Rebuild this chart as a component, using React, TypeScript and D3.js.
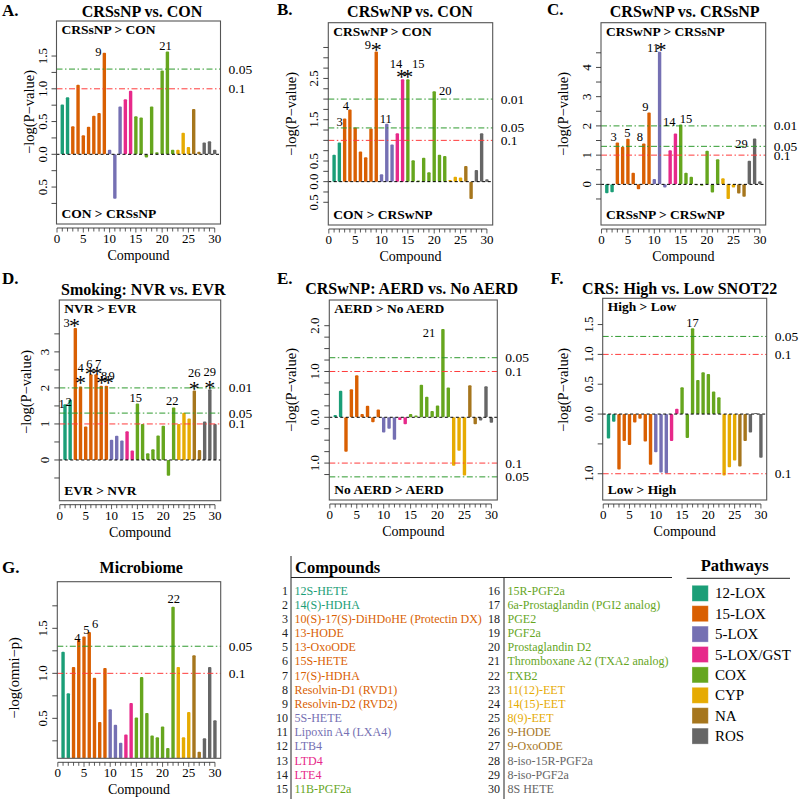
import React from "react";
import * as d3 from "d3";

// ---------------- DATA ----------------
const compoundIds = d3.range(1, 31);
const compoundNames = [
  "12S-HETE", "14(S)-HDHA", "10(S)-17(S)-DiHDoHE (Protectin DX)", "13-HODE", "13-OxoODE",
  "15S-HETE", "17(S)-HDHA", "Resolvin-D1 (RVD1)", "Resolvin-D2 (RVD2)", "5S-HETE",
  "Lipoxin A4 (LXA4)", "LTB4", "LTD4", "LTE4", "11B-PGF2a",
  "15R-PGF2a", "6a-Prostaglandin (PGI2 analog)", "PGE2", "PGF2a", "Prostaglandin D2",
  "Thromboxane A2 (TXA2 analog)", "TXB2", "11(12)-EET", "14(15)-EET", "8(9)-EET",
  "9-HODE", "9-OxoODE", "8-iso-15R-PGF2a", "8-iso-PGF2a", "8S HETE",
];
const compoundPathway = [
  "12-LOX", "12-LOX",
  "15-LOX", "15-LOX", "15-LOX", "15-LOX", "15-LOX", "15-LOX", "15-LOX",
  "5-LOX", "5-LOX", "5-LOX",
  "5-LOX/GST", "5-LOX/GST",
  "COX", "COX", "COX", "COX", "COX", "COX", "COX", "COX",
  "CYP", "CYP", "CYP",
  "NA", "NA",
  "ROS", "ROS", "ROS",
];
const pathwayNames = ["12-LOX", "15-LOX", "5-LOX", "5-LOX/GST", "COX", "CYP", "NA", "ROS"];
const pathwayColors = ["#1B9E77", "#D95F02", "#7570B3", "#E7298A", "#66A61E", "#E6AB02", "#A6761D", "#666666"];

const valuesA = [0.76, 0.87, 0.43, 1.06, 0.29, 0.42, 0.59, 0.63, 1.55, 0.07, -0.68, 0.73, 0.84, 0.97, 0.58, 0.56, -0.05, 0.73, 0.03, 1.28, 1.57, 0.07, 0.07, 0.33, 0.11, 0.69, 0.04, 0.18, 0.2, 0.07];
const valuesB = [0.65, 0.95, 1.53, 1.75, 1.31, 0.73, 0.59, 1.29, 3.15, 0.18, 1.4, 0.9, 1.17, 2.48, 2.48, 0.52, 0.03, 0.58, 0.23, 2.19, 0.65, 0.62, 0.04, 0.12, 0.1, 0.38, -0.42, 0.28, 1.17, 0.06];
const valuesC = [-0.3, -0.27, 1.43, 1.29, 1.56, 0.4, -0.17, 1.4, 2.46, 0.18, 4.54, -0.11, 1.17, 1.74, 2.05, 0.4, 0.26, -0.03, -0.05, 1.15, -0.28, 0.86, 0.21, -0.5, -0.11, -0.31, -0.42, 0.81, 1.57, 0.11];
const valuesD = [1.55, 1.67, 3.66, 2.04, 0.93, 2.38, 2.38, 2.06, 2.06, 0.56, 0.67, 0.54, 0.8, 0.26, 1.57, 1.0, 0.19, 0.3, 0.68, 0.95, -0.44, 1.46, 1.0, 1.31, 1.15, 1.93, 0.28, 1.07, 1.96, 1.0];
const valuesE = [0.05, 0.58, -0.75, 0.61, 0.92, 0.07, 0.25, -0.11, 0.17, -0.33, -0.25, -0.49, -0.06, -0.15, 0.07, 0.04, 0.71, 0.45, 0.14, 0.26, 1.93, 0.65, -1.06, -0.73, -1.27, 0.7, -0.15, -0.07, 0.68, -0.12];
const valuesF = [-0.41, -0.13, -0.93, -0.45, -0.52, -0.14, -0.08, -0.46, -0.85, -0.64, -0.98, -0.99, -0.45, 0.09, 0.45, -0.4, 1.44, 0.57, 0.7, 0.67, 0.38, 0.28, -1.03, -0.89, -0.78, -0.88, -0.45, -0.31, 0.02, -0.73];
const valuesG = [1.24, 0.78, 1.07, 1.37, 1.41, 1.46, 0.95, 0.46, 1.06, 0.6, 0.43, 0.23, 0.32, 0.67, 0.51, 0.96, 0.56, 0.31, 0.29, 0.41, 0.17, 1.74, 1.07, 0.29, 0.57, 1.2, 0.13, 0.28, 1.07, 0.48];

// significance thresholds (p-values); negative side listed separately
const thresholdsA = [0.05, 0.1];
const thresholdsB = [0.01, 0.05, 0.1];
const thresholdsC = [0.01, 0.05, 0.1];
const thresholdsD = [0.01, 0.05, 0.1];
const thresholdsE = [0.05, 0.1];
const thresholdsENeg = [0.1, 0.05];
const thresholdsF = [0.05, 0.1];
const thresholdsFNeg = [0.1];
const thresholdsG = [0.05, 0.1];

// labelled compounds and starred compounds
const labelsA = [9, 21];
const labelsB = [3, 4, 9, 11, 14, 15, 20];
const starsB = [9, 14, 15];
const labelsC = [3, 5, 8, 9, 11, 14, 15, 29];
const starsC = [11];
const labelsD = [1, 2, 3, 4, 6, 7, 8, 9, 15, 22, 26, 29];
const starsD = [3, 4, 6, 7, 8, 9, 26, 29];
const labelsE = [21];
const labelsF = [17];
const labelsG = [4, 5, 6, 22];

// ---------------- STYLE / LAYOUT ----------------
const FONT = "'Liberation Serif', 'Times New Roman', Times, serif";
const colorOf = (i: number) => pathwayColors[pathwayNames.indexOf(compoundPathway[i - 1])];

type Box = { x0: number; y0: number; x1: number; y1: number };
type PanelSpec = {
  letter: string; letterPos: [number, number];
  title: string; titlePos: [number, number];
  box: Box; yDomain: [number, number];
  values: number[];
  ticks: [number, number, number]; tickLabels: number[]; decimals: number;
  thr: number[]; thrNeg?: number[];
  top?: string; bottom?: string;
  labels: number[]; stars?: number[];
  labelOff: Record<number, [number, number]>;
  starOff?: Record<number, [number, number]>;
  yTitle: string; yTitlePos: [number, number];
};

const panels: PanelSpec[] = [
  {
    letter: "A.", letterPos: [2, 16], title: "CRSsNP vs. CON", titlePos: [142, 17],
    box: { x0: 56.5, y0: 21, x1: 220.5, y1: 224 }, yDomain: [-1.064, 2.035],
    values: valuesA, ticks: [-0.75, 1.5, 0.25], tickLabels: [-0.5, 0, 0.5, 1, 1.5], decimals: 1,
    thr: thresholdsA, top: "CRSsNP > CON", bottom: "CON > CRSsNP",
    labels: labelsA, labelOff: { 9: [-6, 3], 21: [-2, -1] },
    yTitle: "\u2212log(P\u2212value)", yTitlePos: [34, 112],
  },
  {
    letter: "B.", letterPos: [277, 14.5], title: "CRSwNP vs. CON", titlePos: [410, 17],
    box: { x0: 328.3, y0: 22.7, x1: 492.7, y1: 225 }, yDomain: [-1.05, 3.85],
    values: valuesB, ticks: [-0.5, 3.25, 0.25], tickLabels: [-0.5, 0, 0.5, 1.5, 2.5], decimals: 1,
    thr: thresholdsB, top: "CRSwNP > CON", bottom: "CON > CRSwNP",
    labels: labelsB, stars: starsB,
    labelOff: { 3: [-5, 8], 4: [-4, 1], 9: [-8.5, -2.6], 11: [-1, -1], 14: [-6.5, -11], 15: [10.5, -11.6], 20: [11, 3.7] },
    starOff: { 9: [0, -5], 14: [-1, -6], 15: [0, -6] },
    yTitle: "\u2212log(P\u2212value)", yTitlePos: [296, 114],
  },
  {
    letter: "C.", letterPos: [547, 14.5], title: "CRSwNP vs. CRSsNP", titlePos: [684.7, 17],
    box: { x0: 601, y0: 22.7, x1: 765.7, y1: 225 }, yDomain: [-1.39, 5.53],
    values: valuesC, ticks: [-0.5, 4.5, 0.5], tickLabels: [0, 1, 2, 3, 4], decimals: 0,
    thr: thresholdsC, top: "CRSwNP > CRSsNP", bottom: "CRSsNP > CRSwNP",
    labels: labelsC, stars: starsC,
    labelOff: { 3: [-3.8, -1.5], 5: [-0.6, -1.4], 8: [-4, -2], 9: [-3.6, -1.5], 11: [-6.5, 0.6], 14: [-6.1, -7], 15: [5.3, -1.7], 29: [-13, 10] },
    starOff: { 11: [1.3, -5] },
    yTitle: "\u2212log(P\u2212value)", yTitlePos: [568, 114],
  },
  {
    letter: "D.", letterPos: [2, 283.5], title: "Smoking: NVR vs. EVR", titlePos: [143.3, 295],
    box: { x0: 59.3, y0: 300, x1: 220.7, y1: 500.7 }, yDomain: [-1.13, 4.44],
    values: valuesD, ticks: [-0.5, 3.5, 0.5], tickLabels: [0, 1, 2, 3], decimals: 0,
    thr: thresholdsD, top: "NVR > EVR", bottom: "EVR > NVR",
    labels: labelsD, stars: starsD,
    labelOff: { 1: [-3.3, 4], 2: [-1.5, 6], 3: [-8.8, -0.9], 4: [0, -14], 6: [-1.6, -6], 7: [2.2, -6], 8: [3, -5.5], 9: [5.2, -5.5], 15: [-1.6, -1.5], 22: [-1.5, -2.4], 26: [0, -13], 29: [0, -13] },
    starOff: { 3: [-0.8, -5.6], 4: [0, -6.5], 6: [-0.5, -4], 7: [1, -4], 8: [0.2, -6], 9: [1.8, -6], 26: [0, -5], 29: [0, -5] },
    yTitle: "\u2212log(P\u2212value)", yTitlePos: [31, 392],
  },
  {
    letter: "E.", letterPos: [277, 284], title: "CRSwNP: AERD vs. No AERD", titlePos: [411.7, 294],
    box: { x0: 329.3, y0: 300, x1: 497.3, y1: 500 }, yDomain: [-1.806, 2.561],
    values: valuesE, ticks: [-1.25, 2.0, 0.25], tickLabels: [-1, 0, 1, 2], decimals: 1,
    thr: thresholdsE, thrNeg: thresholdsENeg, top: "AERD > No AERD", bottom: "No AERD > AERD",
    labels: labelsE, labelOff: { 21: [-14, 7.8] },
    yTitle: "\u2212log(P\u2212value)", yTitlePos: [296, 390],
  },
  {
    letter: "F.", letterPos: [550.5, 284], title: "CRS: High vs. Low SNOT22", titlePos: [679.7, 294],
    box: { x0: 602.7, y0: 298.3, x1: 766.7, y1: 500 }, yDomain: [-1.44, 1.94],
    values: valuesF, ticks: [-1.0, 1.5, 0.5], tickLabels: [-1, 0, 0.5, 1, 1.5], decimals: 1,
    thr: thresholdsF, thrNeg: thresholdsFNeg, top: "High > Low", bottom: "Low > High",
    labels: labelsF, labelOff: { 17: [0, -1.3] },
    yTitle: "\u2212log(P\u2212value)", yTitlePos: [568, 390],
  },
  {
    letter: "G.", letterPos: [2, 573.3], title: "Microbiome", titlePos: [141.2, 573.3],
    box: { x0: 57.3, y0: 581.7, x1: 220.7, y1: 758.3 }, yDomain: [0.056, 2.018],
    values: valuesG, ticks: [0.25, 1.75, 0.25], tickLabels: [0.5, 1, 1.5], decimals: 1,
    thr: thresholdsG,
    labels: labelsG, labelOff: { 4: [-1.3, 1.7], 5: [2.4, -2], 6: [6, -3.6], 22: [0.7, -4] },
    yTitle: "\u2212log(omni\u2212p)", yTitlePos: [19, 678],
  },
];

const STAR_FS = 22;

function Panel({ p, idx }: { p: PanelSpec; idx: number }) {
  const { box } = p;
  const x = d3.scaleLinear().domain([-0.1, 31.1]).range([box.x0, box.x1]);
  const y = d3.scaleLinear().domain(p.yDomain).range([box.y1, box.y0]);
  const hasZero = p.yDomain[0] < 0;
  const base = hasZero ? y(0) : box.y1;
  const bw = 3.4;
  const clipId = `clip${idx}`;
  const tickVals = d3.range(p.ticks[0], p.ticks[1] + 1e-9, p.ticks[2]);
  const xTicks = d3.range(0, 31);
  const xLabs = [0, 5, 10, 15, 20, 25, 30];
  const axY = box.y1 + 4;
  const thrLines = [
    ...p.thr.map((t) => ({ v: -Math.log10(t), t })),
    ...(p.thrNeg || []).map((t) => ({ v: Math.log10(t), t })),
  ];
  const cx = (box.x0 + box.x1) / 2;
  return (
    <g>
      <defs>
        <clipPath id={clipId}>
          <rect x={box.x0} y={box.y0} width={box.x1 - box.x0} height={box.y1 - box.y0} />
        </clipPath>
      </defs>
      <text x={p.letterPos[0]} y={p.letterPos[1]} fontSize={17} fontWeight="bold" fontFamily={FONT}>{p.letter}</text>
      <text x={p.titlePos[0]} y={p.titlePos[1]} fontSize={16} fontWeight="bold" fontFamily={FONT} textAnchor="middle">{p.title}</text>
      {/* bars */}
      <g clipPath={`url(#${clipId})`}>
        {p.values.map((v, k) => {
          const i = k + 1;
          const yv = y(v);
          return (
            <rect key={i} x={x(i) - bw / 2} y={Math.min(yv, base)} width={bw}
              height={Math.max(Math.abs(yv - base), 0.8)} rx={1} fill={colorOf(i)} />
          );
        })}
      </g>
      {/* thresholds */}
      {thrLines.map((l, k) => (
        <g key={k}>
          <line x1={box.x0} x2={box.x1} y1={y(l.v)} y2={y(l.v)}
            stroke={l.t === 0.1 ? "#FF3B3B" : "#2E9A2E"} strokeWidth={1}
            strokeDasharray="6,2.5,1.5,2.5" />
          <text x={box.x1 + 8} y={y(l.v) + 4.5} fontSize={13.5} fontFamily={FONT}>{String(l.t)}</text>
        </g>
      ))}
      {hasZero && (
        <line x1={box.x0} x2={box.x1} y1={y(0)} y2={y(0)} stroke="#000" strokeWidth={1} strokeDasharray="3,2.5" />
      )}
      {/* box */}
      <rect x={box.x0} y={box.y0} width={box.x1 - box.x0} height={box.y1 - box.y0} fill="none" stroke="#555" strokeWidth={1.1} />
      {/* y axis */}
      {tickVals.map((t, k) => (
        <line key={k} x1={box.x0 - 5} x2={box.x0} y1={y(t)} y2={y(t)} stroke="#333" strokeWidth={0.9} />
      ))}
      {p.tickLabels.map((t, k) => (
        <text key={k} transform={`translate(${box.x0 - 10},${y(t)}) rotate(-90)`} textAnchor="middle"
          fontSize={13} fontFamily={FONT}>{Math.abs(t).toFixed(p.decimals)}</text>
      ))}
      <text transform={`translate(${p.yTitlePos[0]},${p.yTitlePos[1]}) rotate(-90)`} textAnchor="middle"
        fontSize={14.5} fontFamily={FONT}>{p.yTitle}</text>
      {/* x axis */}
      <line x1={x(0)} x2={x(30)} y1={axY} y2={axY} stroke="#333" strokeWidth={0.9} />
      {xTicks.map((t) => (
        <line key={t} x1={x(t)} x2={x(t)} y1={axY} y2={axY + (t % 5 === 0 ? 4.5 : 3.5)} stroke="#333" strokeWidth={0.8} />
      ))}
      {xLabs.map((t) => (
        <text key={t} x={x(t)} y={box.y1 + 19} textAnchor="middle" fontSize={13} fontFamily={FONT}>{t}</text>
      ))}
      <text x={cx} y={box.y1 + 36} textAnchor="middle" fontSize={14} fontFamily={FONT}>Compound</text>
      {/* region labels */}
      {p.top && <text x={box.x0 + 5} y={box.y0 + 13} fontSize={13.5} fontWeight="bold" fontFamily={FONT}>{p.top}</text>}
      {p.bottom && <text x={box.x0 + 5} y={box.y1 - 6} fontSize={13.5} fontWeight="bold" fontFamily={FONT}>{p.bottom}</text>}
      {/* bar labels */}
      {p.labels.map((i) => {
        const off = p.labelOff[i] || [0, -3];
        return (
          <text key={i} x={x(i) + off[0]} y={y(p.values[i - 1]) + off[1]} textAnchor="middle" fontSize={12.5} fontFamily={FONT}>{i}</text>
        );
      })}
      {(p.stars || []).map((i) => {
        const off = (p.starOff && p.starOff[i]) || [0, -6];
        return (
          <text key={"s" + i} x={x(i) + off[0]} y={y(p.values[i - 1]) + off[1] + STAR_FS * 0.47} textAnchor="middle"
            fontSize={STAR_FS} fontFamily={FONT}>*</text>
        );
      })}
    </g>
  );
}

function CompoundTable() {
  const rowY = (k: number) => 590.7 + k * 14.15 + 4;
  const cols = [
    { numX: 288, lineX: 291, nameX: 294.5, ids: compoundIds.slice(0, 15), lineTop: 556 },
    { numX: 500, lineX: 504, nameX: 507.5, ids: compoundIds.slice(15), lineTop: 577.5 },
  ];
  return (
    <g fontFamily={FONT}>
      <text x={295} y={572.5} fontSize={16.5} fontWeight="bold">Compounds</text>
      <line x1={291} x2={672} y1={577.5} y2={577.5} stroke="#222" strokeWidth={1} />
      {cols.map((c, ci) => (
        <g key={ci}>
          <line x1={c.lineX} x2={c.lineX} y1={c.lineTop} y2={799} stroke="#222" strokeWidth={1} />
          {c.ids.map((id, k) => (
            <g key={id}>
              <text x={c.numX} y={rowY(k)} fontSize={12} textAnchor="end" fill="#222">{id}</text>
              <text x={c.nameX} y={rowY(k)} fontSize={12} fill={colorOf(id)}>{compoundNames[id - 1]}</text>
            </g>
          ))}
        </g>
      ))}
    </g>
  );
}

function Legend() {
  return (
    <g fontFamily={FONT}>
      <text x={734.7} y={570.7} fontSize={16.5} fontWeight="bold" textAnchor="middle">Pathways</text>
      <line x1={686.7} x2={790} y1={578.3} y2={578.3} stroke="#222" strokeWidth={1} />
      {pathwayNames.map((n, k) => {
        const cy = 593.3 + k * 20.4;
        return (
          <g key={n}>
            <rect x={692} y={cy - 8} width={16.3} height={16} fill={pathwayColors[k]} stroke="#fff" strokeOpacity={0.4} strokeWidth={0.8} />
            <text x={715} y={cy + 5} fontSize={15}>{n}</text>
          </g>
        );
      })}
    </g>
  );
}

export default function App() {
  return (
    <svg width={800} height={799} viewBox="0 0 800 799"
      style={{ position: "absolute", left: 0, top: 0, background: "#fff" }}>
      <rect width={800} height={799} fill="#fff" />
      {panels.map((p, k) => <Panel key={k} p={p} idx={k} />)}
      <CompoundTable />
      <Legend />
    </svg>
  );
}
